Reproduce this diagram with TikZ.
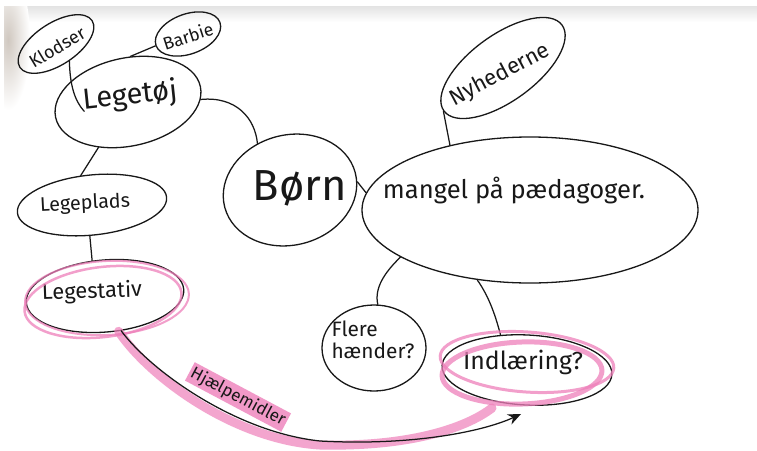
\documentclass[tikz,border=0pt]{standalone}
\usepackage{fontspec}
\setmainfont{Fira Sans}
\usetikzlibrary{shapes.geometric,arrows.meta,calc}
\definecolor{ink}{RGB}{24,24,24}
\definecolor{marker}{RGB}{238,128,186}
\newcommand\fitto[2]{\resizebox{#1}{!}{#2}}
\tikzset{
  bubble/.style={ellipse, draw=ink, line width=1.3pt, inner sep=0pt},
  word/.style={text=ink, inner sep=0pt, align=left},
  link/.style={draw=ink, line width=1.25pt, line cap=round},
  ring/.style={ellipse, draw=marker, line width=#1, inner sep=0pt, opacity=0.75},
  ring/.default=2.5pt,
}
\begin{document}
\begin{tikzpicture}[x=1pt,y=-1pt]
\useasboundingbox (0,0) rectangle (757,450);
\fill[white] (0,0) rectangle (757,450);
% paper edge shading
\shade[top color=black!11, bottom color=white] (0,6) rectangle (757,22);
\shade[inner color=brown!45!black!28, outer color=white] (8,40) ellipse (22 and 70);
\fill[white] (0,0) rectangle (757,6);
\fill[white] (0,0) rectangle (4,120);

% bubbles
\node[bubble, minimum width=86, minimum height=42, rotate=33] (klodser) at (56,44) {};
\node[word, rotate=31] at (57,47) {\fitto{62pt}{Klodser}};
\node[bubble, minimum width=68, minimum height=40, rotate=20] (barbie) at (188,34) {};
\node[word, rotate=18] at (188,36) {\fitto{52pt}{Barbie}};
\node[bubble, minimum width=148, minimum height=88, rotate=12] (legetoj) at (128,102) {};
\node[word, rotate=6] at (130,96) {\fitto{95pt}{Legetøj}};
\node[bubble, minimum width=150, minimum height=60, rotate=6] (legeplads) at (92,205) {};
\node[word, rotate=3] at (85,204) {\fitto{90pt}{Legeplads}};
\node[bubble, minimum width=158, minimum height=72, rotate=5] (legestativ) at (105,296) {};
\node[word, rotate=2] at (92,292) {\fitto{100pt}{Legestativ}};
\node[bubble, minimum width=135, minimum height=110, rotate=15] (born) at (290,190) {};
\node[word] at (300,188) {\fitto{94pt}{Børn}};
\node[bubble, minimum width=336, minimum height=146] (mangel) at (530,210) {};
\node[word] at (514,191) {\fitto{262pt}{mangel på pædagoger.}};
\node[bubble, minimum width=146, minimum height=66, rotate=36] (nyhed) at (503,68) {};
\node[word, rotate=28] at (500,75) {\fitto{110pt}{Nyhederne}};
\node[bubble, minimum width=104, minimum height=86] (flere) at (374,348) {};
\node[word] at (373,340) {\fitto{83pt}{\shortstack[l]{Flere\\hænder?}}};
\node[bubble, minimum width=170, minimum height=70, rotate=-3] (indl) at (527,370) {};
\node[word] at (523,362) {\fitto{120pt}{Indlæring?}};

% connectors
\draw[link] (klodser.-85) .. controls (70,84) and (74,100) .. ($(legetoj.west)!0.4!(legetoj.center)$);
\draw[link] (barbie.west) -- (legetoj.75);
\draw[link] (legetoj.-10) .. controls (236,96) and (255,118) .. (born.110);
\draw[link] (legetoj.-135) -- (legeplads.105);
\draw[link] (legeplads.-100) -- (legestativ.105);
\draw[link] (born.-8) -- (mangel.174);
\draw[link] (nyhed.west) -- (mangel.141);
\draw[link] (mangel.-160) .. controls (385,272) and (374,288) .. (flere.85);
\draw[link] (mangel.-127) .. controls (490,298) and (496,318) .. (indl.130);

% highlighter marks
\node[ring=2pt, minimum width=164, minimum height=74, rotate=3] at (107,298) {};
\node[ring=2.5pt, minimum width=158, minimum height=70, rotate=7] at (103,302) {};
\node[ring=3pt, minimum width=174, minimum height=60, rotate=-4] at (527,362) {};
\node[ring=5pt, minimum width=160, minimum height=62, rotate=2] at (522,373) {};
\draw[marker, line width=9pt, opacity=0.7, line cap=round]
  (legestativ.-74) .. controls (150,378) and (235,440) .. (320,445)
  .. controls (410,447) and (466,428) .. (492,408);

% arrow to Indlaering
\coordinate (tip) at (521,414);
\draw[link, -{Stealth[length=13pt,width=11pt]}]
  (legestativ.-70) .. controls (150,370) and (235,432) .. (320,441)
  .. controls (410,446) and (482,432) .. (tip);
\node[word, rotate=-28, fill=marker!80, inner sep=2pt] (aid) at (238,397) {\fitto{105pt}{Hjælpemidler}};
\end{tikzpicture}
\end{document}
